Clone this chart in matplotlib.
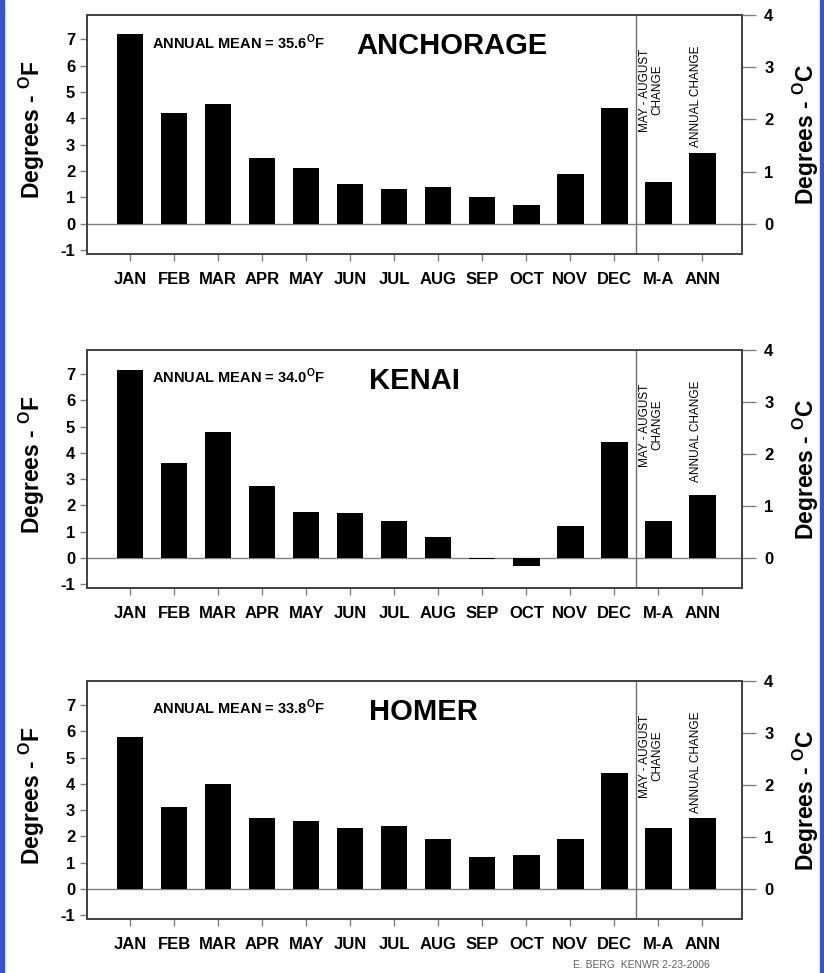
import numpy as np
import matplotlib
matplotlib.use('Agg')
import matplotlib.pyplot as plt
from matplotlib import font_manager as fm

# data (deg F change)
cats = ['JAN', 'FEB', 'MAR', 'APR', 'MAY', 'JUN', 'JUL', 'AUG', 'SEP', 'OCT',
        'NOV', 'DEC', 'M-A', 'ANN']
anchorage = [7.2, 4.2, 4.55, 2.5, 2.1, 1.5, 1.3, 1.4, 1.0, 0.7, 1.9, 4.4, 1.6, 2.7]
kenai = [7.15, 3.6, 4.8, 2.75, 1.75, 1.7, 1.4, 0.8, -0.05, -0.3, 1.2, 4.4, 1.4, 2.4]
homer = [5.8, 3.1, 4.0, 2.7, 2.6, 2.3, 2.4, 1.9, 1.2, 1.3, 1.9, 4.4, 2.3, 2.7]
stations = ['ANCHORAGE', 'KENAI', 'HOMER']
means = ['35.6', '34.0', '33.8']
left_ticks = [-1, 0, 1, 2, 3, 4, 5, 6, 7]
right_ticks = [0, 1, 2, 3, 4]

plt.rcParams['font.family'] = 'Liberation Sans'
plt.rcParams['mathtext.fontset'] = 'custom'
plt.rcParams['mathtext.rm'] = 'Liberation Sans:bold'
plt.rcParams['mathtext.bf'] = 'Liberation Sans:bold'

# narrow font for the small rotated notes, if installed
try:
    fm.findfont('Liberation Sans Narrow', fallback_to_default=False)
    narrow = 'Liberation Sans Narrow'
    note_size = 10
except Exception:
    narrow = 'Liberation Sans'
    note_size = 8.5

fig = plt.figure(figsize=(8.24, 9.73), dpi=100)
fig.patches.append(plt.Rectangle((0, 0), 4 / 824, 1, transform=fig.transFigure,
                                 color='#3555d0', zorder=10))
fig.patches.append(plt.Rectangle((820 / 824, 0), 4 / 824, 1, transform=fig.transFigure,
                                 color='#3555d0', zorder=10))

W, H = 824.0, 973.0
tops = [15, 350, 681]
bots = [254, 588, 919]
title_x = [7.31, 6.45, 6.66]
series = [anchorage, kenai, homer]
x = np.arange(len(cats))
ylo, yhi = -1.15, 7.92

for i in range(3):
    ax = fig.add_axes([87 / W, 1 - bots[i] / H, 655 / W, (bots[i] - tops[i]) / H])
    ax.bar(x, series[i], width=0.6, color='black', zorder=3)
    ax.axhline(0, color='#808080', lw=1, zorder=2)
    ax.axvline(11.5, color='#707070', lw=1, zorder=2)
    ax.set_xlim(-0.98, 13.9)
    ax.set_ylim(ylo, yhi)
    ax.set_xticks(x)
    ax.set_xticklabels(cats, fontsize=12, fontweight='bold')
    ax.set_yticks(left_ticks)
    ax.set_yticklabels([str(t) for t in left_ticks], fontsize=12, fontweight='bold')
    ax.tick_params(direction='out', length=5, color='#808080', width=1)
    ax.tick_params(axis='x', pad=8)
    for s in ax.spines.values():
        s.set_color('#404040')
        s.set_linewidth(1.2)

    ax.text(0.5, 6.9, 'ANNUAL MEAN = ' + means[i] + r'$^{\rm O}$F', fontsize=10.5,
            fontweight='bold', va='center', ha='left')
    ax.text(title_x[i], 6.75, stations[i], fontsize=21, fontweight='bold',
            ha='center', va='center')
    ax.text(11.84, 6.65, 'MAY - AUGUST\nCHANGE', rotation=90, family=narrow,
            fontsize=note_size, ha='center', va='top', multialignment='center',
            linespacing=1.0)
    ax.text(12.86, 6.77, 'ANNUAL CHANGE', rotation=90, family=narrow,
            fontsize=note_size, ha='center', va='top')

    ax.text(-0.084, 0.52, r'Degrees - $^{\rm O}$F', rotation=90, fontsize=16.5,
            fontweight='bold', ha='center', va='center', transform=ax.transAxes)

    ax2 = ax.twinx()
    ax2.set_ylim(ylo * 4 / yhi, 4)
    ax2.set_yticks(right_ticks)
    ax2.set_yticklabels([str(t) for t in right_ticks], fontsize=12, fontweight='bold')
    ax2.tick_params(direction='out', length=10, color='#808080', width=1, pad=6)
    for s in ax2.spines.values():
        s.set_color('#404040')
        s.set_linewidth(1.2)
    ax2.text(1.098, 0.5, r'Degrees - $^{\rm O}$C', rotation=90, fontsize=16.5,
             fontweight='bold', ha='center', va='center', transform=ax.transAxes)

fig.text(710 / W, 1 - 965 / H, 'E. BERG  KENWR 2-23-2006', family=narrow,
         fontsize=7.5, color='#606060', ha='right', va='center')

fig.savefig('out.png', dpi=100, facecolor='white')
